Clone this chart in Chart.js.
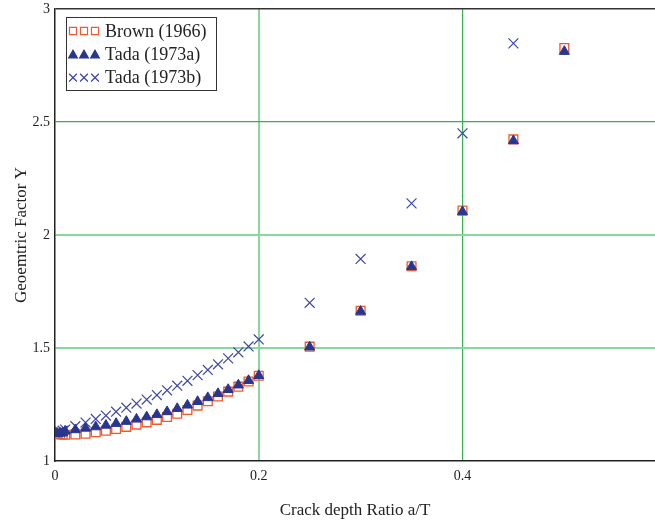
<!DOCTYPE html>
<html>
<head>
<meta charset="utf-8">
<script src="https://cdn.jsdelivr.net/npm/chart.js@4.4.1/dist/chart.umd.min.js"></script>
<style>
  html, body { margin: 0; padding: 0; background: #fff; }
  #wrap { width: 655px; height: 523px; position: relative; }
</style>
</head>
<body>
<div id="wrap"><canvas id="chart"></canvas></div>
<script>
/* =========================
   DATA
========================= */

// crack depth ratio a/T
const aT = [0, 0.0025, 0.005, 0.0075, 0.01, 0.02, 0.03, 0.04, 0.05, 0.06, 0.07, 0.08, 0.09, 0.10,
  0.11, 0.12, 0.13, 0.14, 0.15, 0.16, 0.17, 0.18, 0.19, 0.20, 0.25, 0.30, 0.35, 0.40, 0.45, 0.50];

const brown1966 = [1.120, 1.119, 1.118, 1.117, 1.116, 1.117, 1.121, 1.127, 1.134, 1.142, 1.151, 1.161, 1.171, 1.182,
  1.195, 1.209, 1.226, 1.245, 1.264, 1.285, 1.307, 1.329, 1.352, 1.377, 1.506, 1.665, 1.862, 2.108, 2.423, 2.827];

const tada1973a = [1.122, 1.122, 1.123, 1.124, 1.132, 1.138, 1.145, 1.151, 1.158, 1.166, 1.175, 1.185, 1.195, 1.205,
  1.218, 1.232, 1.247, 1.263, 1.280, 1.298, 1.316, 1.336, 1.356, 1.378, 1.504, 1.662, 1.860, 2.103, 2.417, 2.812];

const tada1973b = [1.122, 1.126, 1.130, 1.134, 1.139, 1.154, 1.170, 1.186, 1.201, 1.218, 1.236, 1.254, 1.272, 1.292,
  1.313, 1.333, 1.355, 1.380, 1.403, 1.428, 1.454, 1.481, 1.507, 1.538, 1.700, 1.894, 2.140, 2.450, 2.848, null];

const xTicks = [0, 0.2, 0.4];
const yTicks = [1, 1.5, 2, 2.5, 3];

const seriesLabels = ['Brown (1966)', 'Tada (1973a)', 'Tada (1973b)'];

/* =========================
   STYLE
========================= */

const SERIF = "'Liberation Serif', 'DejaVu Serif', serif";
const RED = '#ee5a2f';
const NAVY = '#28368f';
const BLUE = '#3c46a8';
const GREEN_LIGHT = '#8ad79c';
const GREEN_DARK = '#33b24d';

function toPoints(ys) {
  return aT.map((x, i) => ({ x: x, y: ys[i] })).filter(p => p.y !== null);
}

// no extra room for overflowing tick labels
function noScalePadding(scale) {
  scale.paddingLeft = 0;
  scale.paddingRight = 0;
  scale.paddingTop = 0;
  scale.paddingBottom = 0;
}

// legend drawn inside the plot, top-left
const boxLegend = {
  id: 'boxLegend',
  afterDraw(chart) {
    const ctx = chart.ctx;
    const styles = [
      { pointStyle: 'rect', radius: 5, color: RED, fill: false },
      { pointStyle: 'triangle', radius: 5, color: NAVY, fill: true },
      { pointStyle: 'crossRot', radius: 5.5, color: BLUE, fill: false }
    ];
    ctx.save();
    ctx.fillStyle = '#fff';
    ctx.fillRect(66, 17, 151, 73);
    ctx.strokeStyle = '#333';
    ctx.lineWidth = 1;
    ctx.strokeRect(66.5, 17.5, 150, 73);

    ctx.font = '18px ' + SERIF;
    ctx.textBaseline = 'middle';
    ctx.textAlign = 'left';

    styles.forEach((s, i) => {
      const y = 31 + i * 23.3;
      for (let k = 0; k < 3; k++) {
        ctx.strokeStyle = s.color;
        ctx.fillStyle = s.fill ? s.color : 'rgba(0,0,0,0)';
        ctx.lineWidth = 1.2;
        Chart.helpers.drawPoint(ctx, {
          pointStyle: s.pointStyle,
          radius: s.radius,
          borderWidth: 1.2,
          rotation: 0
        }, 73 + k * 11, y + (s.pointStyle === 'triangle' ? 1 : 0));
        if (s.fill) ctx.fill();
      }
      ctx.fillStyle = '#222';
      ctx.fillText(seriesLabels[i], 105, y + 1);
    });
    ctx.restore();
  }
};

/* =========================
   CHART
========================= */

const ctx = document.getElementById('chart').getContext('2d');

new Chart(ctx, {
  type: 'scatter',
  data: {
    datasets: [
      {
        label: seriesLabels[0],
        data: toPoints(brown1966),
        pointStyle: 'rect',
        pointRadius: 6.2,
        borderColor: RED,
        backgroundColor: 'rgba(255,255,255,0)',
        borderWidth: 1.3,
        order: 1
      },
      {
        label: seriesLabels[1],
        data: toPoints(tada1973a),
        pointStyle: 'triangle',
        pointRadius: 5.8,
        borderColor: NAVY,
        backgroundColor: NAVY,
        borderWidth: 1,
        order: 0
      },
      {
        label: seriesLabels[2],
        data: toPoints(tada1973b),
        pointStyle: 'crossRot',
        pointRadius: 7,
        borderColor: BLUE,
        borderWidth: 1.2,
        order: 2
      }
    ]
  },
  options: {
    responsive: true,
    maintainAspectRatio: false,
    animation: false,
    layout: {
      autoPadding: false,
      padding: { top: 9, left: 0, right: 0, bottom: 0 }
    },
    scales: {
      x: {
        type: 'linear',
        min: 0,
        max: 0.589,
        afterFit(scale) { scale.height = 62; noScalePadding(scale); },
        afterBuildTicks(scale) { scale.ticks = xTicks.map(v => ({ value: v })); },
        border: { display: true, color: '#222', width: 1.5 },
        grid: {
          drawTicks: false,
          color: c => c.tick && c.tick.value === 0.2 ? GREEN_LIGHT : (c.tick && c.tick.value === 0.4 ? GREEN_DARK : 'rgba(0,0,0,0)'),
          lineWidth: c => c.tick && c.tick.value === 0.2 ? 2 : 1.2
        },
        ticks: {
          padding: 7,
          color: '#222',
          font: { family: SERIF, size: 14 },
          maxRotation: 0,
          callback: v => String(v)
        },
        title: {
          display: true,
          text: 'Crack depth Ratio a/T',
          color: '#222',
          font: { family: SERIF, size: 17 },
          padding: { top: 0, bottom: 2 }
        }
      },
      y: {
        type: 'linear',
        min: 1,
        max: 3,
        afterFit(scale) { scale.width = 55; noScalePadding(scale); },
        afterBuildTicks(scale) { scale.ticks = yTicks.map(v => ({ value: v })); },
        border: { display: true, color: '#222', width: 1.5 },
        grid: {
          drawTicks: false,
          color: c => {
            const v = c.tick && c.tick.value;
            if (v === 3) return '#333';
            if (v === 2.5) return GREEN_DARK;
            if (v === 1.5 || v === 2) return GREEN_LIGHT;
            return 'rgba(0,0,0,0)';
          },
          lineWidth: c => (c.tick && c.tick.value === 3) ? 1.5 : (c.tick && c.tick.value === 2.5 ? 1.2 : 2)
        },
        ticks: {
          padding: 5,
          color: '#222',
          font: { family: SERIF, size: 14 },
          callback: v => String(v)
        },
        title: {
          display: true,
          text: 'Geoemtric Factor Y',
          color: '#222',
          font: { family: SERIF, size: 17 },
          padding: { top: 11, bottom: 0 }
        }
      }
    },
    plugins: {
      legend: { display: false },
      tooltip: { enabled: false }
    }
  },
  plugins: [boxLegend]
});
</script>
</body>
</html>
